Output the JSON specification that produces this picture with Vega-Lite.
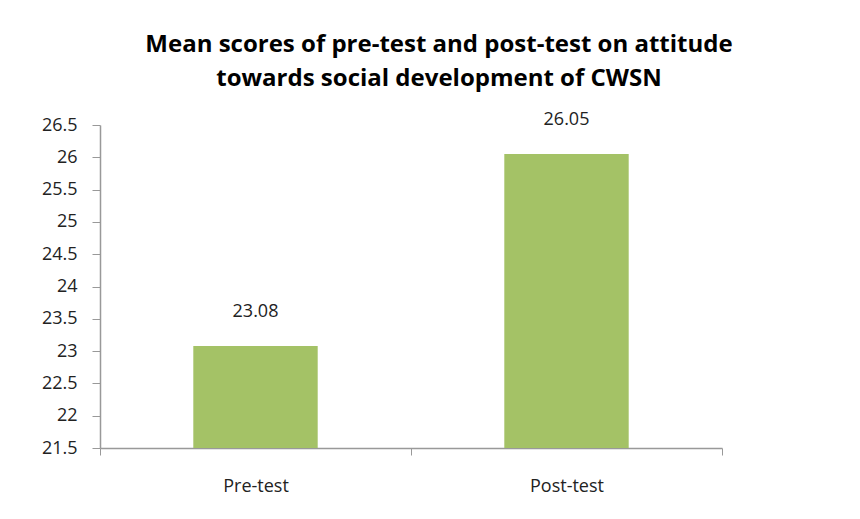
{
  "$schema": "https://vega.github.io/schema/vega-lite/v6.json",
  "width": 622,
  "height": 323,
  "autosize": "none",
  "padding": {"left": 100, "top": 125, "right": 138, "bottom": 71},
  "background": "white",
  "config": {"view": {"stroke": null}, "font": "Open Sans"},
  "title": {
    "text": ["Mean scores of pre-test and post-test  on attitude", "towards social development of CWSN"],
    "font": "Open Sans",
    "fontSize": 24,
    "fontWeight": "bold",
    "color": "#000000",
    "anchor": "middle",
    "dx": 28,
    "offset": 20,
    "lineHeight": 34
  },
  "data": {"values": [
    {"test": "Pre-test", "score": 23.08},
    {"test": "Post-test", "score": 26.05}
  ]},
  "encoding": {
    "x": {
      "field": "test", "type": "nominal", "sort": null,
      "scale": {"paddingInner": 0, "paddingOuter": 0},
      "axis": {
        "title": null, "labelAngle": 0, "labelFontSize": 18, "labelColor": "#222222",
        "labelFont": "Open Sans", "labelPadding": 22,
        "domainColor": "#999999", "tickColor": "#999999", "tickSize": 7,
        "tickBand": "extent", "domainWidth": 1.5
      }
    },
    "y": {
      "field": "score", "type": "quantitative",
      "scale": {"domain": [21.5, 26.5], "nice": false, "zero": false},
      "axis": {
        "title": null, "values": [21.5, 22, 22.5, 23, 23.5, 24, 24.5, 25, 25.5, 26, 26.5],
        "grid": false, "labelFontSize": 18, "labelColor": "#222222", "labelFont": "Open Sans",
        "labelPadding": 15, "tickSize": 8, "tickColor": "#999999", "domainColor": "#999999",
        "domainWidth": 1.5, "labelFlush": false, "format": "~g"
      }
    }
  },
  "layer": [
    {
      "mark": {"type": "bar", "color": "#A4C266", "width": {"band": 0.4}},
      "encoding": {"y2": {"datum": 21.5}}
    },
    {
      "mark": {"type": "text", "baseline": "alphabetic", "dy": -29, "fontSize": 18, "font": "Open Sans", "color": "#222222"},
      "encoding": {"text": {"field": "score", "type": "quantitative", "format": ".2f"}}
    }
  ]
}
